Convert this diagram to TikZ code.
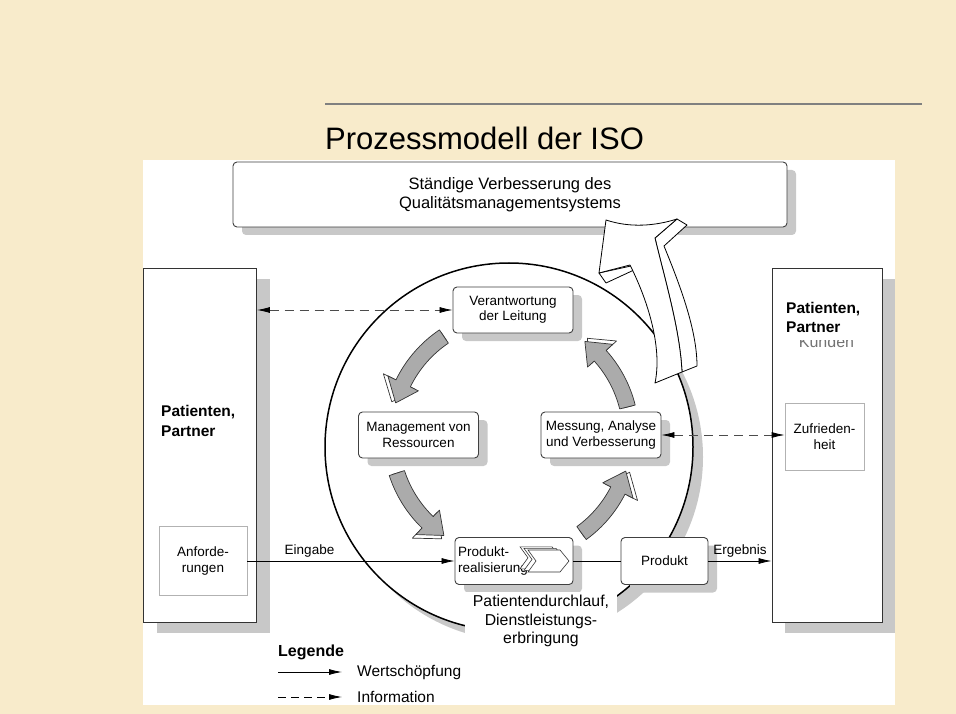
\documentclass[tikz,border=0pt]{standalone}
\usepackage{fontspec}
\setmainfont{Liberation Sans}
\usetikzlibrary{arrows.meta,shadows}
\definecolor{parchment}{RGB}{248,235,203}
\definecolor{shadegray}{RGB}{200,200,200}
\tikzset{
  boxfont/.style={font=\fontsize{13.5}{15.5}\selectfont},
  proc/.style={draw=black!75, line width=0.9pt, rounded corners=4pt, fill=white,
    align=center, inner sep=2pt, minimum width=120pt, minimum height=46pt, boxfont,
    drop shadow={shadow xshift=9pt, shadow yshift=-8pt, fill=shadegray, opacity=1}},
  topbox/.style={proc, minimum width=554pt, minimum height=65pt,
    font=\fontsize{16.5}{19}\selectfont},
  party/.style={draw=black!80, line width=0.9pt, fill=white, minimum width=113pt,
    minimum height=354pt,
    drop shadow={shadow xshift=13pt, shadow yshift=-11pt, fill=shadegray, opacity=1}},
  partylabel/.style={fill=white, align=left, inner sep=4pt, minimum height=45pt,
    font=\bfseries\fontsize{15.5}{19.5}\selectfont},
  inbox/.style={draw=black!30, line width=0.7pt, fill=white, align=center,
    minimum width=88pt, minimum height=69pt, boxfont},
  lab/.style={boxfont, inner sep=3pt},
  legfont/.style={font=\fontsize{15.5}{18}\selectfont, inner sep=2pt},
  flow/.style={line width=0.8pt, -{Latex[length=13pt,width=6pt]}},
  info/.style={line width=0.8pt, draw=black!70, dash pattern=on 9pt off 6pt,
    {Latex[length=13pt,width=6pt,color=black]}-{Latex[length=13pt,width=6pt,color=black]}},
  turn/.style={draw=black!80, line width=0.7pt, fill=black!33, line join=round},
  turnside/.style={draw=black!80, line width=0.7pt, fill=white, line join=round},
  bigarrow/.style={draw=black, line width=0.8pt, fill=white, line join=round},
  chev/.style={draw=black!80, line width=0.6pt, fill=white}
}
% curved block arrow round the centre of the cycle, from angle #1 to angle #2
\newcommand{\turnarrow}[2]{%
  \path[turnside] (#1:125) arc[start angle=#1, end angle={#2+10}, radius=125]
    -- ({#2+10}:142) -- (#2:124) -- ({#2+10}:106) -- ({#2+10}:116)
    arc[start angle={#2+10}, end angle=#1, radius=116] -- cycle;
  \path[turn] (#1:128) arc[start angle=#1, end angle={#2+10}, radius=128]
    -- ({#2+10}:137) -- (#2:120) -- ({#2+10}:103) -- ({#2+10}:112)
    arc[start angle={#2+10}, end angle=#1, radius=112] -- cycle;}

\begin{document}
\begin{tikzpicture}[x=1pt,y=-1pt]
  \useasboundingbox (0,0) rectangle (956,714);
  \fill[parchment] (0,0) rectangle (956,714);
  \fill[white] (143,160) rectangle (895,705);

  % title
  \draw[black!50, line width=2pt] (325,104) -- (922,104);
  \node[anchor=base west, inner sep=0pt, font=\fontsize{31}{36}\selectfont] (title)
    at (325,150) {Prozessmodell der ISO};

  \node[topbox] (ksv) at (510,194.5) {Ständige Verbesserung des\\Qualitätsmanagementsystems};

  % Patienten, Partner
  \node[party] (lp) at (200,445) {};
  \node[party, minimum width=110pt] (rp) at (827,445) {};
  \node[inbox] (anf) at (203,561) {Anforde-\\rungen};
  \node[inbox, minimum width=79pt, minimum height=67pt] (zuf) at (824.5,436.5) {Zufrieden-\\heit};
  \node[partylabel, anchor=west] (lpl) at (157,421) {Patienten,\\Partner};
  \node[anchor=base, text=black!55, font=\fontsize{16}{19}\selectfont] (kun) at (826.5,347) {Kunden};
  \node[partylabel, anchor=west] (rpl) at (782,317.5) {Patienten,\\Partner};

  % cycle
  \draw[line width=1.5pt, fill=white,
    drop shadow={shadow xshift=10pt, shadow yshift=-10pt, fill=shadegray, opacity=1}]
    (509,447) circle[radius=184];
  \begin{scope}[shift={(511,436)}]
    \foreach \a/\b in {236/196, 162/124, 54/17, -14/-52}
      \turnarrow{\a}{\b};
  \end{scope}

  % Verbesserung arrow
  \draw[bigarrow] (631,266) -- (599,273) -- (606,283) -- (634,270) -- cycle;
  \draw[bigarrow] (677,219) -- (687,225) -- (664,246)
    .. controls (680,285) and (697,330) .. (697,366) -- (682,372)
    .. controls (680,330) and (665,280) .. (655,238) -- cycle;
  \draw[bigarrow] (655,383) .. controls (662,350) and (650,305) .. (630,265)
    -- (599,273) -- (606,220) .. controls (630,228) and (655,226) .. (677,219)
    -- (655,238) .. controls (665,280) and (680,330) .. (682,372) -- cycle;

  \node[proc] (vl) at (513,310) {Verantwortung\\der Leitung};
  \node[proc] (mr) at (418.5,435) {Management von\\Ressourcen};
  \node[proc] (mav) at (601,435) {Messung, Analyse\\und Verbesserung};
  \node[proc, minimum width=118pt, minimum height=47pt, text width=112pt, align=left]
    (pr) at (514,561) {Produkt-\\realisierung};
  \node[proc, minimum width=87pt, minimum height=47pt] (prod) at (664.5,561) {Produkt};
  \begin{scope}[shift={(pr.center)}]
    \foreach \s in {8,4,0}
      \draw[chev, shift={({-\s},{-\s/2.5})}] (14,-11) -- (46,-11) -- (55,0)
        -- (46,11) -- (14,11) -- (22,0) -- cycle;
  \end{scope}

  % connectors
  \draw[info] (vl.west -| lp.east) -- (vl.west);
  \draw[info] (mav.east) -- (mav.east -| zuf.west);
  \draw[flow] (anf.east) -- node[pos=0.3, above, lab] {Eingabe} (pr.west);
  \draw[line width=0.8pt] (pr.east) -- (prod.west);
  \draw[flow] (prod.east) -- node[above, lab] {Ergebnis} (prod.east -| rp.west);

  \node[fill=white, align=center, inner xsep=8pt, inner ysep=3pt,
    font=\fontsize{15.8}{18.5}\selectfont] (pdl) at (541,621)
    {Patientendurchlauf,\\Dienstleistungs-\\erbringung};

  % Legende
  \node[anchor=base west, inner sep=0pt, font=\bfseries\fontsize{16}{19}\selectfont]
    (leg) at (278,656) {Legende};
  \node[anchor=west, legfont] (ws) at (355,672) {Wertschöpfung};
  \node[anchor=west, legfont] (inf) at (355,697) {Information};
  \coordinate (ws0) at (278,672);
  \coordinate (inf0) at (278,697);
  \draw[flow] (ws0) -- ([xshift=-13pt]ws.west);
  \draw[flow, dash pattern=on 8pt off 5pt] (inf0) -- ([xshift=-13pt]inf.west);
\end{tikzpicture}
\end{document}
